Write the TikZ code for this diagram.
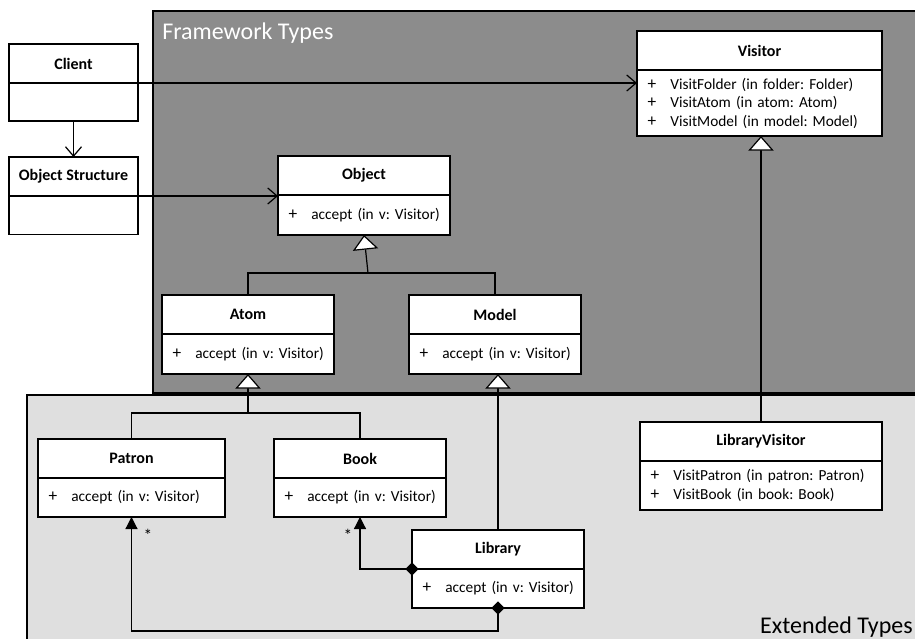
\documentclass[tikz,border=0pt]{standalone}
\usepackage{fontspec}
\setmainfont{Carlito}
\usetikzlibrary{arrows.meta,positioning}
\definecolor{framework}{HTML}{8C8C8C}
\definecolor{extended}{HTML}{DFDFDF}
\newcommand{\op}[1]{\mbox{\makebox[17pt][l]{\fontsize{13}{13.9}\selectfont +}#1}}
\frenchspacing

\begin{document}
\begin{tikzpicture}[x=0.75pt, y=-0.75pt,
    head/.style={draw, fill=white, anchor=north west, font=\bfseries\fontsize{12}{14}\selectfont, minimum height=29.25pt, inner sep=0pt, outer sep=0pt, line width=0.8pt},
    ops/.style={draw, fill=white, anchor=north west, align=left, font=\fontsize{11.5}{13.9}\selectfont, inner xsep=8pt, inner ysep=0pt, outer sep=0pt, line width=0.8pt},
    panel/.style={draw, line width=2.2pt},
    title/.style={font=\fontsize{18}{20}\selectfont, inner sep=0pt},
    link/.style={line width=0.9pt},
    uses/.style={link, -{Straight Barb[length=7pt, width=12pt]}},
    gen/.style={link, -{Triangle[open, length=11pt, width=19pt, fill=white]}},
    comp/.style={link, shorten <=-5pt, {Diamond[length=10pt, width=10pt]}-{Triangle[length=9pt, width=9pt]}},
    mult/.style={font=\fontsize{13}{14}\selectfont, inner sep=1pt}]
  \clip (0,0) rectangle (915,639);
  % packages
  \fill[panel, fill=framework] (153,11) rectangle (940,393);
  \fill[panel, fill=extended] (27,395) rectangle (940,660);
  \node[title, text=white, anchor=base west] (fwtitle) at (162,40) {Framework Types};
  \node[title, anchor=base east] (exttitle) at (913,633) {Extended Types};
  % classes
  \node[head, minimum width=96.75pt] (client) at (9,44) {Client};
  \node[ops, text width=80.75pt, minimum height=28.5pt] (client-ops) at (client.south west) {};
  \node[head, minimum width=96.75pt] (objstruct) at (9,157) {Object Structure};
  \node[ops, text width=80.75pt, minimum height=29pt] (objstruct-ops) at (objstruct.south west) {};
  \node[head, minimum width=183.75pt] (visitor) at (637,31) {Visitor};
  \node[ops, text width=167.75pt, minimum height=49.5pt] (visitor-ops) at (visitor.south west)
    {\op{VisitFolder (in folder: Folder)}\\ \op{VisitAtom (in atom: Atom)}\\ \op{VisitModel (in model: Model)}};
  \node[head, minimum width=129pt] (object) at (278,156) {Object};
  \node[ops, text width=113pt, minimum height=30pt] (object-ops) at (object.south west) {\op{accept (in v: Visitor)}};
  \node[head, minimum width=129pt] (atom) at (162,295) {Atom};
  \node[ops, text width=113pt, minimum height=30pt] (atom-ops) at (atom.south west) {\op{accept (in v: Visitor)}};
  \node[head, minimum width=129pt] (model) at (409,295) {Model};
  \node[ops, text width=113pt, minimum height=30pt] (model-ops) at (model.south west) {\op{accept (in v: Visitor)}};
  \node[head, minimum width=140.25pt] (patron) at (38,439) {Patron};
  \node[ops, text width=124.25pt, minimum height=29.25pt] (patron-ops) at (patron.south west) {\op{accept (in v: Visitor)}};
  \node[head, minimum width=129pt] (book) at (274,439) {Book};
  \node[ops, text width=113pt, minimum height=29.25pt] (book-ops) at (book.south west) {\op{accept (in v: Visitor)}};
  \node[head, minimum width=129pt] (library) at (412,530) {Library};
  \node[ops, text width=113pt, minimum height=29.25pt] (library-ops) at (library.south west) {\op{accept (in v: Visitor)}};
  \node[head, minimum width=181.5pt] (libvisitor) at (640,422) {LibraryVisitor};
  \node[ops, text width=165.5pt, minimum height=36.75pt] (libvisitor-ops) at (libvisitor.south west)
    {\op{VisitPatron (in patron: Patron)}\\ \op{VisitBook (in book: Book)}};
  % associations
  \draw[uses] (client-ops.south) -- (objstruct.north);
  \draw[uses] (client.south east) -- (client.south east -| visitor-ops.west);
  \draw[uses] (objstruct.south east) -- (objstruct.south east -| object.west);
  % generalizations
  \coordinate (objjoin) at (368,273);
  \draw[link] (atom.north) |- (objjoin) -| (model.north);
  \draw[gen] (objjoin) -- (object-ops.south);
  \coordinate (atomjoin) at (248,413);
  \draw[link] (patron.north) |- (atomjoin) -| (book.north);
  \draw[gen] (atomjoin) -- (atom-ops.south);
  \draw[gen] (library.north) -- (library.north |- model-ops.south);
  \draw[gen] (libvisitor.north) -- (libvisitor.north |- visitor-ops.south);
  % compositions
  \draw[comp] (library.south west) -| (book-ops.south);
  \draw[comp] (library-ops.south) -- ++(0,23) -| (patron-ops.south);
  \node[mult] (bookmult) at (348,535) {*};
  \node[mult] (patronmult) at (148,535) {*};
\end{tikzpicture}
\end{document}
